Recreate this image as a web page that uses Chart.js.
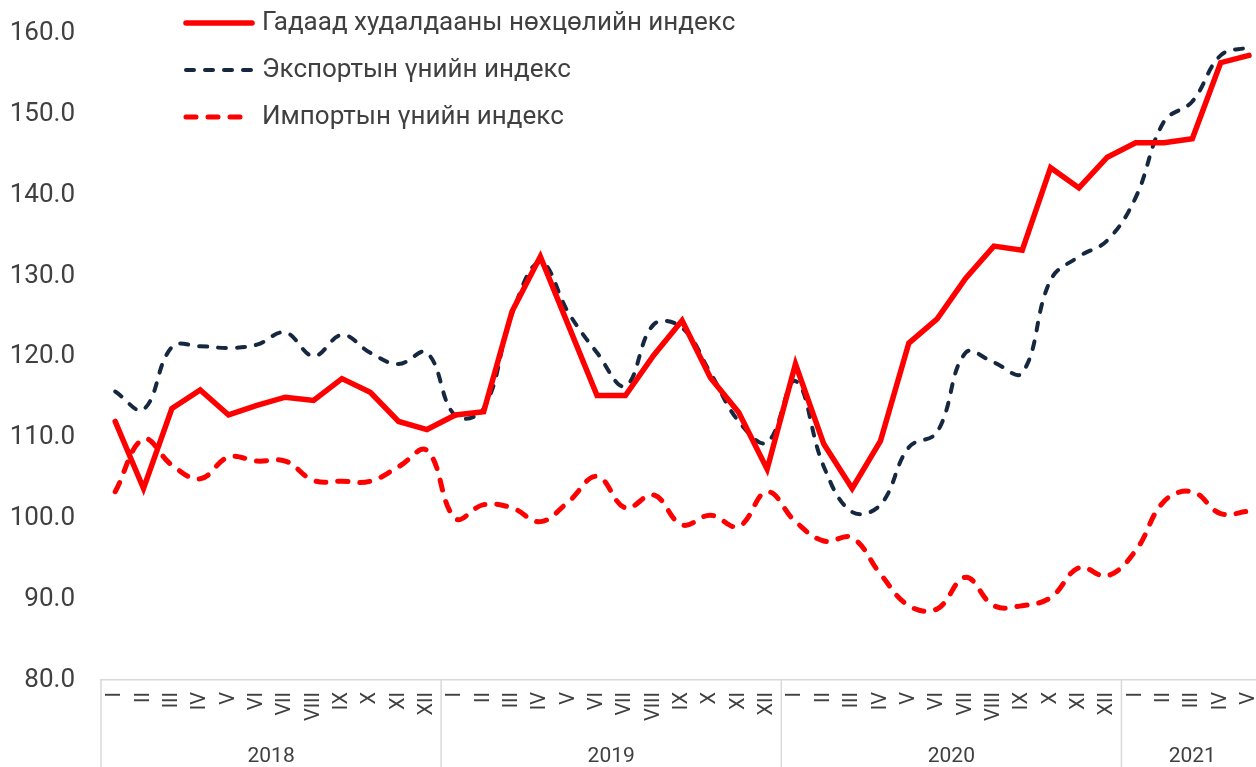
<!DOCTYPE html>
<html>
<head>
<meta charset="utf-8">
<script src="https://cdn.jsdelivr.net/npm/chart.js@4/dist/chart.umd.min.js"></script>
<style>
  html, body { margin: 0; padding: 0; background: #fff; overflow: hidden; }
</style>
</head>
<body>
<canvas id="chart" width="1277" height="767"></canvas>
<script>
// x-axis groups: years and how many months each one has
let years = ['2018', '2019', '2020', '2021'];
let monthsInYear = [12, 12, 12, 5];
let romans = ['I', 'II', 'III', 'IV', 'V', 'VI', 'VII', 'VIII', 'IX', 'X', 'XI', 'XII'];

// Terms of trade index
let tradeIndex = [
  112.0, 103.7, 113.6, 115.9, 112.8, 114.0, 115.0, 114.6, 117.3, 115.6, 112.0, 111.0,
  112.8, 113.2, 125.6, 132.4, 123.8, 115.2, 115.2, 120.2, 124.5, 117.4, 113.1, 106.1,
  119.1, 109.2, 103.7, 109.6, 121.7, 124.7, 129.7, 133.7, 133.2, 143.4, 140.9, 144.7,
  146.5, 146.5, 147.0, 156.4, 157.3
];
// Export price index
let exportIndex = [
  115.7, 113.5, 121.2, 121.3, 121.1, 121.5, 123.0, 120.1, 122.7, 120.5, 119.1, 120.5,
  112.7, 113.6, 125.3, 131.7, 125.4, 120.5, 116.4, 124.0, 123.6, 118.0, 112.0, 109.4,
  117.0, 106.4, 100.8, 101.7, 108.8, 110.7, 120.5, 119.3, 118.0, 129.5, 132.4, 134.4,
  139.7, 149.1, 151.6, 157.3, 158.3
];
// Import price index
let importIndex = [
  103.3, 109.8, 106.6, 104.9, 107.6, 107.1, 107.1, 104.7, 104.6, 104.6, 106.4, 108.4,
  100.0, 101.7, 101.3, 99.6, 102.1, 105.2, 101.3, 102.9, 99.2, 100.4, 99.0, 103.3,
  99.6, 97.2, 97.6, 93.1, 89.2, 88.8, 92.7, 89.2, 89.2, 90.2, 93.9, 92.9,
  96.0, 102.1, 103.3, 100.6, 100.9
];

let labels = [];
years.forEach((y, i) => {
  for (let m = 0; m < monthsInYear[i]; m++) labels.push(romans[m]);
});

const textColor = '#404040';
const lineGray = '#d9d9d9';

// year captions under the month ticks, with separators between years
const yearGroups = {
  id: 'yearGroups',
  afterDraw(chart) {
    const ctx = chart.ctx;
    const x = chart.scales.x;
    const half = (x.getPixelForValue(1) - x.getPixelForValue(0)) / 2;
    const top = chart.chartArea.bottom;
    const bottom = chart.height;
    ctx.save();
    ctx.strokeStyle = lineGray;
    ctx.lineWidth = 1.5;
    ctx.fillStyle = textColor;
    ctx.font = '21px Roboto';
    ctx.textAlign = 'center';
    ctx.textBaseline = 'middle';
    let start = 0;
    years.forEach((y, i) => {
      const end = start + monthsInYear[i] - 1;
      const left = x.getPixelForValue(start) - half;
      const right = x.getPixelForValue(end) + half;
      ctx.beginPath();
      ctx.moveTo(left, top);
      ctx.lineTo(left, bottom);
      ctx.stroke();
      ctx.fillText(y, (left + right) / 2, bottom - 10);
      start = end + 1;
    });
    ctx.restore();
  }
};

// legend stacked in a column at the top left
const columnLegend = {
  id: 'columnLegend',
  afterDraw(chart) {
    const ctx = chart.ctx;
    ctx.save();
    ctx.font = '26px Roboto';
    ctx.textBaseline = 'middle';
    ctx.fillStyle = textColor;
    chart.data.datasets.forEach((ds, i) => {
      const y = 23 + i * 47;
      ctx.beginPath();
      ctx.strokeStyle = ds.borderColor;
      ctx.lineWidth = ds.borderWidth;
      ctx.lineCap = ds.borderCapStyle || 'butt';
      ctx.setLineDash(ds.borderDash || []);
      ctx.moveTo(186, y);
      ctx.lineTo(252, y);
      ctx.stroke();
      ctx.setLineDash([]);
      ctx.fillText(ds.label, 262, y);
    });
    ctx.restore();
  }
};

new Chart(document.getElementById('chart'), {
  type: 'line',
  data: {
    labels: labels,
    datasets: [
      {
        label: 'Гадаад худалдааны нөхцөлийн индекс',
        data: tradeIndex,
        borderColor: '#ff0000',
        borderWidth: 5.5,
        borderCapStyle: 'round',
        borderJoinStyle: 'miter',
        tension: 0,
        pointRadius: 0,
        order: 0
      },
      {
        label: 'Экспортын үнийн индекс',
        data: exportIndex,
        borderColor: '#152840',
        borderWidth: 4,
        borderDash: [8, 11],
        borderCapStyle: 'round',
        tension: 0.4,
        pointRadius: 0,
        order: 1
      },
      {
        label: 'Импортын үнийн индекс',
        data: importIndex,
        borderColor: '#ff0000',
        borderWidth: 5,
        borderDash: [10, 12],
        borderCapStyle: 'round',
        tension: 0.4,
        pointRadius: 0,
        order: 2
      }
    ]
  },
  options: {
    responsive: false,
    animation: false,
    layout: { padding: { top: 18, left: 0, right: 0, bottom: 0 } },
    plugins: {
      legend: { display: false },
      tooltip: { enabled: false }
    },
    scales: {
      x: {
        offset: true,
        grid: { display: false },
        border: { display: true, color: lineGray, width: 1.5 },
        ticks: {
          autoSkip: false,
          minRotation: 90,
          maxRotation: 90,
          padding: 4,
          color: textColor,
          font: { family: 'Roboto', size: 20 }
        },
        afterFit(scale) { scale.height = 87; }
      },
      y: {
        min: 80,
        max: 160,
        grid: { display: false },
        border: { display: false },
        ticks: {
          stepSize: 10,
          padding: 18,
          color: textColor,
          font: { family: 'Roboto', size: 26 },
          callback: v => v.toFixed(1)
        },
        afterFit(scale) { scale.width = 101; }
      }
    }
  },
  plugins: [yearGroups, columnLegend]
});
</script>
</body>
</html>
